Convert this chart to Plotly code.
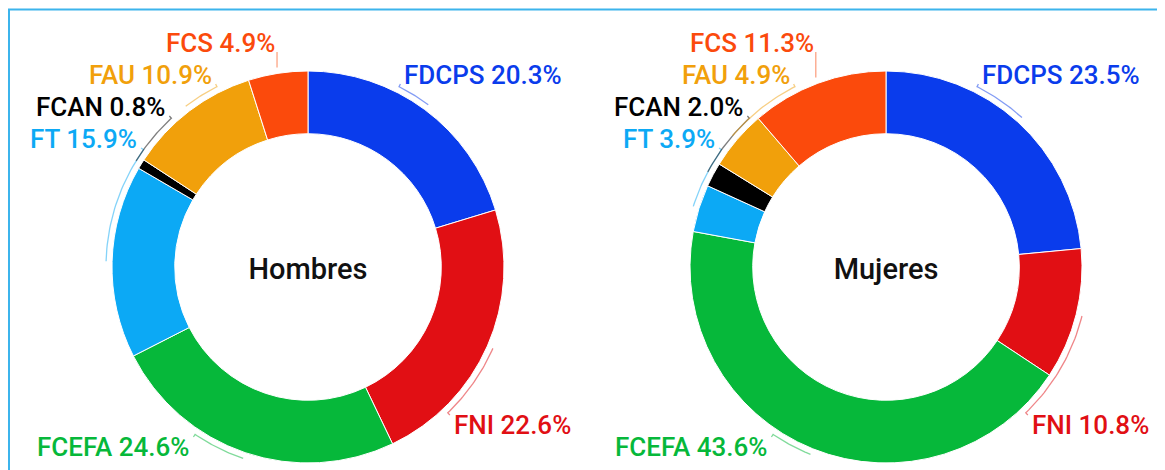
import numpy as np
import plotly.graph_objects as go

# la pagina html deja 8px de margen, la figura ocupa el resto de la ventana
W, H = 1157, 462

# datos (porcentajes)
facultades = ["FDCPS", "FNI", "FCEFA", "FT", "FCAN", "FAU", "FCS"]
hombres = [20.3, 22.6, 24.6, 15.9, 0.8, 10.9, 4.9]
mujeres = [23.5, 10.8, 43.6, 3.9, 2.0, 4.9, 11.3]
grupos = ["Hombres", "Mujeres"]

colores = ["#0a3cec", "#e10f14", "#06b83a", "#0ca9f5", "#000000", "#f1a00b", "#fb4a0c"]

FONT = "Roboto"
R_PIE = 196      # radio exterior en px
HOLE = 0.68
R_LINE = 202     # radio de las lineas guia
R_ANCHOR = 205   # radio donde se enganchan las etiquetas
centros = [(300, 259), (878, 259)]


def colocar_etiquetas(valores, cx, cy):
    """posiciones de etiquetas apiladas por filas + lineas guia"""
    total = float(sum(valores))
    acum = np.cumsum([0.0] + list(valores))
    mids = [360.0 * (acum[i] + valores[i] / 2.0) / total for i in range(len(valores))]

    grupos_lado = {}
    for i, t in enumerate(mids):
        lado = "der" if t < 180 else "izq"
        arriba = np.cos(np.radians(t)) > 0
        dist = min(t, 360 - t) if arriba else abs(t - 180)
        grupos_lado.setdefault((lado, arriba), []).append((dist, i))

    filas = {}
    for (lado, arriba), items in grupos_lado.items():
        items.sort()
        k = -1
        for dist, i in items:
            k = max(k + 1, 0 if dist < 25 else 1)
            if arriba:
                filas[i] = (lado, arriba, cy - 224 + 32 * k)
            else:
                filas[i] = (lado, arriba, cy + 180 - 22 * k)

    res = []
    for i, t in enumerate(mids):
        lado, arriba, yc = filas[i]
        ya = yc + 9 if arriba else yc - 10
        dy = ya - cy
        signo = 1 if lado == "der" else -1
        if abs(dy) < R_ANCHOR:
            xa = cx + signo * np.sqrt(R_ANCHOR ** 2 - dy ** 2)
            phi = np.degrees(np.arctan2(xa - cx, -dy))
            xt = xa + 2 * signo
        else:
            xa = cx + R_LINE * np.sin(np.radians(t))
            phi = t
            xt = xa
        # linea guia: tramo corto + arco hasta el centro del sector
        if phi < 0:
            phi += 360
        angs = np.linspace(phi, t, 30)
        lx = [xa] + list(cx + R_LINE * np.sin(np.radians(angs)))
        ly = [ya] + list(cy - R_LINE * np.cos(np.radians(angs)))
        res.append(dict(xt=xt, yc=yc, lado=lado, lx=lx, ly=ly))
    return res


fig = go.Figure()

for g, (nombre, valores) in enumerate(zip(grupos, [hombres, mujeres])):
    cx, cy = centros[g]
    etq = colocar_etiquetas(valores, cx, cy)
    for i, e in enumerate(etq):
        fig.add_trace(go.Scatter(
            x=e["lx"], y=e["ly"], mode="lines",
            line=dict(color=colores[i], width=1.3),
            opacity=0.5, hoverinfo="skip", showlegend=False))
        fig.add_annotation(
            x=e["xt"], y=e["yc"], xref="x", yref="y",
            text=f"{facultades[i]} {valores[i]:.1f}%",
            showarrow=False,
            xanchor="left" if e["lado"] == "der" else "right",
            yanchor="middle",
            font=dict(family=FONT, size=26, color=colores[i], weight=500))

    fig.add_trace(go.Pie(
        labels=facultades, values=valores,
        sort=False, direction="clockwise", rotation=0,
        hole=HOLE, textinfo="none",
        marker=dict(colors=colores, line=dict(color="white", width=1)),
        domain=dict(x=[(cx - R_PIE) / W, (cx + R_PIE) / W],
                    y=[1 - (cy + R_PIE) / H, 1 - (cy - R_PIE) / H]),
        title=dict(text=nombre, position="middle center",
                   font=dict(family=FONT, size=29, color="#111111", weight=500)),
        showlegend=False))

# marco azul claro
fig.add_shape(type="rect", xref="x", yref="y", x0=1, y0=1.5, x1=W + 50, y1=H + 50,
              line=dict(color="#3cb4ec", width=2), layer="below")

fig.update_layout(
    width=W, height=H,
    margin=dict(l=0, r=0, t=0, b=0),
    paper_bgcolor="white", plot_bgcolor="white",
    font=dict(family=FONT),
    xaxis=dict(range=[0, W], visible=False, fixedrange=True),
    yaxis=dict(range=[H, 0], visible=False, fixedrange=True),
    showlegend=False,
)

fig.write_html("out.html")
